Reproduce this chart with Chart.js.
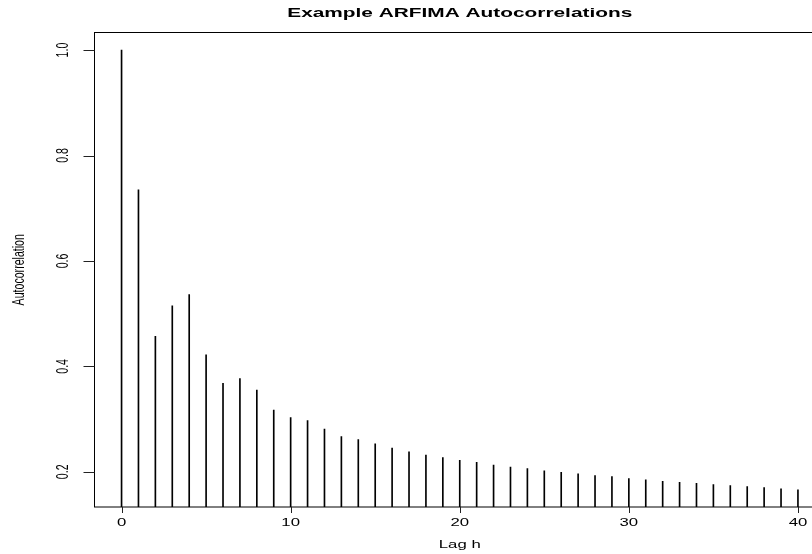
<!DOCTYPE html>
<html>
<head>
<meta charset="utf-8">
<script src="https://cdn.jsdelivr.net/npm/chart.js@4"></script>
<style>
  html, body { margin: 0; padding: 0; overflow: hidden; background: #fff; }
  #wrap { width: 812px; height: 554px; overflow: hidden; }
</style>
</head>
<body>
<div id="wrap"><canvas id="acf" width="830" height="554"></canvas></div>
<script>
// lags and autocorrelations
const lags = [0, 1, 2, 3, 4, 5, 6, 7, 8, 9, 10, 11, 12, 13, 14, 15, 16, 17, 18, 19, 20,
              21, 22, 23, 24, 25, 26, 27, 28, 29, 30, 31, 32, 33, 34, 35, 36, 37, 38, 39, 40];
const acf = [1.0, 0.735, 0.457, 0.515, 0.536, 0.422, 0.368, 0.377, 0.355, 0.317, 0.303,
             0.297, 0.281, 0.267, 0.261, 0.253, 0.245, 0.238, 0.232, 0.227, 0.222,
             0.218, 0.213, 0.209, 0.206, 0.202, 0.199, 0.196, 0.193, 0.191, 0.187,
             0.185, 0.182, 0.180, 0.178, 0.176, 0.174, 0.172, 0.170, 0.168, 0.166];
const xTicks = [0, 10, 20, 30, 40];
const yTicks = [0.2, 0.4, 0.6, 0.8, 1.0];

const chartTitle = 'Example ARFIMA Autocorrelations';
const xLabel = 'Lag h';
const yLabel = 'Autocorrelation';

// the original picture is stretched sideways, so text gets stretched too
const SX = 1.58;
const FONT = '"Liberation Sans", Arial, Helvetica, sans-serif';

function stretchText(ctx, text, x, y, font, rotate) {
    ctx.save();
    ctx.translate(x, y);
    ctx.scale(SX, 1);
    if (rotate) ctx.rotate(-Math.PI / 2);
    ctx.font = font;
    ctx.fillStyle = '#000';
    ctx.textAlign = 'center';
    ctx.textBaseline = 'middle';
    ctx.fillText(text, 0, 0);
    ctx.restore();
}

// box, tick marks, tick labels, axis titles and main title in R's base-graphics look
const rStyle = {
    id: 'rStyle',
    afterDraw(chart) {
        const ctx = chart.ctx;
        const a = chart.chartArea;
        const xs = chart.scales.x;
        const ys = chart.scales.y;

        ctx.save();
        ctx.strokeStyle = '#000';
        ctx.lineWidth = 1;
        ctx.strokeRect(a.left, a.top, a.right - a.left, a.bottom - a.top);
        ctx.restore();

        ctx.save();
        ctx.fillStyle = '#222';
        xTicks.forEach(v => {
            const px = Math.round(xs.getPixelForValue(v));
            ctx.fillRect(px, a.bottom, 1, 6);
        });
        yTicks.forEach(v => {
            const py = Math.round(ys.getPixelForValue(v));
            ctx.fillRect(a.left - 11, py, 11, 1);
        });
        ctx.restore();

        xTicks.forEach(v => {
            stretchText(ctx, String(v), xs.getPixelForValue(v), 523.5, '10.6px ' + FONT, false);
        });
        yTicks.forEach(v => {
            stretchText(ctx, v.toFixed(1), 63, ys.getPixelForValue(v), '10.6px ' + FONT, true);
        });
        const cx = (a.left + a.right) / 2;
        stretchText(ctx, chartTitle, cx, 13, 'bold 13.2px ' + FONT, false);
        stretchText(ctx, xLabel, cx, 545, '10.6px ' + FONT, false);
        stretchText(ctx, yLabel, 19, (a.top + a.bottom) / 2, '10.6px ' + FONT, true);
    }
};

new Chart(document.getElementById('acf'), {
    type: 'bar',
    data: {
        datasets: [{
            data: lags.map((h, i) => ({ x: h, y: acf[i] })),
            backgroundColor: '#000',
            borderWidth: 0,
            barThickness: 1,
            grouped: false
        }]
    },
    options: {
        responsive: false,
        animation: false,
        layout: { padding: { top: 32.5, right: 5, left: 0, bottom: 0 } },
        plugins: {
            legend: { display: false },
            title: { display: false },
            tooltip: { enabled: false }
        },
        scales: {
            x: {
                type: 'linear',
                min: -1.6,
                max: 41.6,
                offset: false,
                afterFit: s => { s.height = 47; },
                ticks: { display: false, stepSize: 10, includeBounds: false, autoSkip: false },
                border: { display: false },
                grid: { display: false }
            },
            y: {
                min: 0.1333,
                max: 1.0333,
                afterFit: s => { s.width = 94.5; },
                ticks: { display: false, stepSize: 0.2, includeBounds: false, autoSkip: false },
                border: { display: false },
                grid: { display: false }
            }
        }
    },
    plugins: [rStyle]
});
</script>
</body>
</html>
